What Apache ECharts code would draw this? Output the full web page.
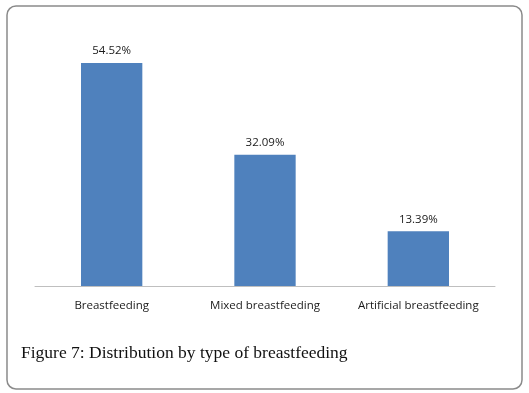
<!DOCTYPE html>
<html>
<head>
<meta charset="utf-8">
<script src="https://cdn.jsdelivr.net/npm/echarts@6/dist/echarts.min.js"></script>
<style>
  html, body { margin: 0; padding: 0; background: #fff; }
  #chart { width: 529px; height: 393px; }
</style>
</head>
<body>
<div id="chart"></div>
<script>
// data
const categories = ['Breastfeeding', 'Mixed breastfeeding', 'Artificial breastfeeding'];
const shares = [54.52, 32.09, 13.39];

const myChart = echarts.init(document.getElementById('chart'));

const option = {
  animation: false,
  title: {
    text: 'Figure 7: Distribution by type of breastfeeding',
    left: 16,
    top: 339,
    textStyle: {
      fontFamily: 'Liberation Serif',
      fontSize: 17.5,
      fontWeight: 'normal',
      color: '#111'
    }
  },
  // frame round the whole figure
  graphic: [{
    type: 'rect',
    shape: { x: 7, y: 6, width: 515, height: 383, r: 9 },
    style: { fill: 'none', stroke: '#8a8a8a', lineWidth: 1.5 },
    silent: true
  }],
  grid: {
    left: 35,
    right: 34,
    top: 40.6,
    bottom: 107
  },
  xAxis: {
    type: 'category',
    data: categories,
    axisLine: { lineStyle: { color: '#bfbfbf', width: 1 } },
    axisTick: { show: false },
    axisLabel: {
      interval: 0,
      hideOverlap: false,
      margin: 14,
      fontFamily: 'Open Sans',
      fontSize: 11.5,
      color: '#1a1a1a'
    }
  },
  yAxis: {
    type: 'value',
    min: 0,
    max: 60,
    show: false,
    splitLine: { show: false }
  },
  series: [{
    type: 'bar',
    data: shares,
    barWidth: '40%',
    itemStyle: { color: '#4f81bd' },
    label: {
      show: true,
      position: 'top',
      distance: 6,
      fontFamily: 'Open Sans',
      fontSize: 11.5,
      color: '#1a1a1a',
      formatter: p => p.value.toFixed(2) + '%'
    }
  }]
};
myChart.setOption(option);
</script>
</body>
</html>
